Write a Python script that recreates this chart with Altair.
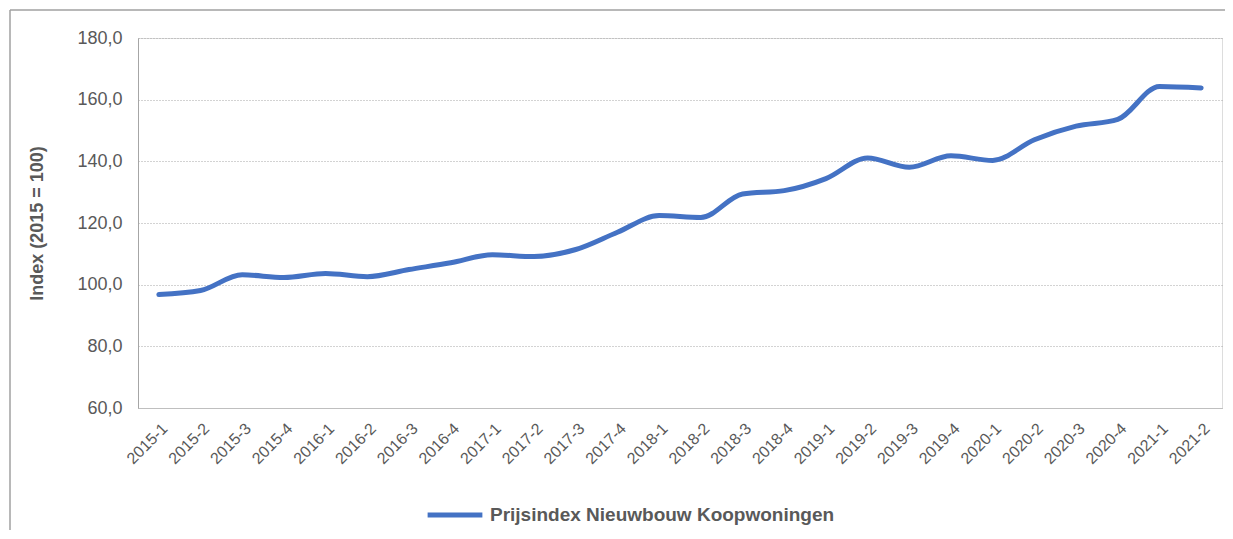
import altair as alt
import pandas as pd

periods = ["2015-1","2015-2","2015-3","2015-4","2016-1","2016-2","2016-3","2016-4",
           "2017-1","2017-2","2017-3","2017-4","2018-1","2018-2","2018-3","2018-4",
           "2019-1","2019-2","2019-3","2019-4","2020-1","2020-2","2020-3","2020-4",
           "2021-1","2021-2"]
values = [96.8, 98.1, 103.2, 102.3, 103.6, 102.6, 104.9, 107.1,
          109.7, 109.1, 111.4, 117.0, 122.4, 121.8, 129.4, 130.5,
          134.4, 141.1, 138.1, 141.8, 140.3, 147.0, 151.4, 153.6,
          164.3, 163.8]
series_name = "Prijsindex Nieuwbouw Koopwoningen"

df = pd.DataFrame({"periode": periods, "index": values, "reeks": series_name})
frame_df = pd.DataFrame({"f": [0]})

font = "Liberation Sans"
grey = "#595959"
frame_col = "#a0a0a0"

line = alt.Chart(df).mark_line(
    strokeWidth=5, interpolate="monotone", strokeCap="round"
).encode(
    x=alt.X("periode:N", sort=periods, title=None,
            scale=alt.Scale(paddingInner=0, paddingOuter=0.5),
            axis=alt.Axis(labelAngle=-45, labelColor=grey, labelFontSize=16,
                          labelFont=font, ticks=False, domainColor="#bfbfbf",
                          labelPadding=12, grid=False)),
    y=alt.Y("index:Q", title="Index (2015 = 100)",
            scale=alt.Scale(domain=[60, 180], nice=False, zero=False),
            axis=alt.Axis(values=[60, 80, 100, 120, 140, 160, 180],
                          labelExpr="replace(format(datum.value, '.1f'), '.', ',')",
                          labelColor=grey, labelFontSize=18, labelFont=font,
                          titleColor=grey, titleFontSize=18, titleFont=font,
                          titleFontWeight="bold", titlePadding=30,
                          ticks=False, domainColor="#a6a6a6", labelPadding=16,
                          gridColor="#a6a6a6", gridDash=[1, 2], gridWidth=1)),
    color=alt.Color("reeks:N", scale=alt.Scale(range=["#4472C4"]),
                    legend=alt.Legend(title=None, orient="none",
                                      legendX=287, legendY=447,
                                      symbolType="stroke", symbolStrokeWidth=5,
                                      symbolSize=3000, labelFontSize=19,
                                      labelFont=font, labelColor=grey,
                                      labelFontWeight="bold", labelLimit=0,
                                      labelOffset=5))
)

frame_left = alt.Chart(frame_df).mark_rule(color=frame_col, strokeWidth=1.5).encode(
    x=alt.value(-128), y=alt.value(-28), y2=alt.value(500))
frame_top = alt.Chart(frame_df).mark_rule(color=frame_col, strokeWidth=1.5).encode(
    x=alt.value(-128), x2=alt.value(1090), y=alt.value(-28))

chart = alt.layer(line, frame_left, frame_top).properties(
    width=1084, height=370,
    autosize=alt.AutoSizeParams(type="none"),
    padding={"left": 130, "top": 30, "right": 3, "bottom": 122}
).configure_view(
    stroke="#bfbfbf", strokeWidth=1
).configure(background="white")

chart.save("out.html", embed_options={"renderer": "svg", "actions": False})
